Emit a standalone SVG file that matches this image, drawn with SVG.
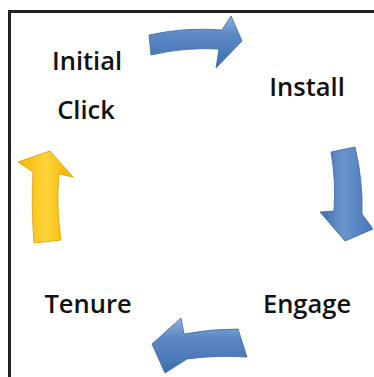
<svg xmlns="http://www.w3.org/2000/svg" width="374" height="377" viewBox="0 0 374 377">
<defs>
<linearGradient id="blueH" x1="0" y1="0" x2="0" y2="1">
<stop offset="0" stop-color="#8fb0dc"/><stop offset="0.35" stop-color="#5d89c6"/><stop offset="1" stop-color="#3f6fae"/>
</linearGradient>
<linearGradient id="blueV" x1="0" y1="0" x2="1" y2="0">
<stop offset="0" stop-color="#3f6fae"/><stop offset="0.45" stop-color="#6a94cd"/><stop offset="1" stop-color="#4677b8"/>
</linearGradient>
<linearGradient id="yellowV" x1="0" y1="0" x2="1" y2="0">
<stop offset="0" stop-color="#f2b400"/><stop offset="0.5" stop-color="#ffd43a"/><stop offset="1" stop-color="#f0b000"/>
</linearGradient>
<style>
.lbl{font-family:"Open Sans","Liberation Sans",sans-serif;font-weight:600;font-size:25.5px;fill:#111;text-anchor:middle}
.ab{stroke:#3a66a3;stroke-width:0.8;stroke-linejoin:round}
.ay{stroke:#d9a000;stroke-width:0.8;stroke-linejoin:round}
.frame{fill:none;stroke:#222;stroke-width:3}
</style>
</defs>
<rect width="374" height="377" fill="#fff"/>
<path class="frame" d="M9.5,377 V11.5 H374"/>
<g id="connectors">
<path class="ab" fill="url(#blueH)" d="M149,35 Q185,27 222,30 L231,16 L242,41 L216,68 L219,49 Q185,47 151,55 Z"/>
<path class="ab" fill="url(#blueV)" d="M331,152 L355,147 Q363,180 362,214 L373,229 L345,241 L320,212 L334,211 Q336,180 331,152 Z"/>
<path class="ab" fill="url(#blueH)" d="M238,329 L247,357 Q215,355 187,359 L165,373 L152,344 L181,318 L184,334 Q210,329 238,329 Z"/>
<path class="ay" fill="url(#yellowV)" d="M34,243 Q31,205 33,172 L18,162 L50,151 L73,177 L59,174 Q56,205 61,240 Z"/>
</g>
<g id="node-initial-click">
<text class="lbl" x="87" y="70">Initial</text>
<text class="lbl" x="86" y="119">Click</text>
</g>
<g id="node-install"><text class="lbl" x="307" y="96">Install</text></g>
<g id="node-engage"><text class="lbl" x="307" y="313">Engage</text></g>
<g id="node-tenure"><text class="lbl" x="88" y="313">Tenure</text></g>
</svg>
